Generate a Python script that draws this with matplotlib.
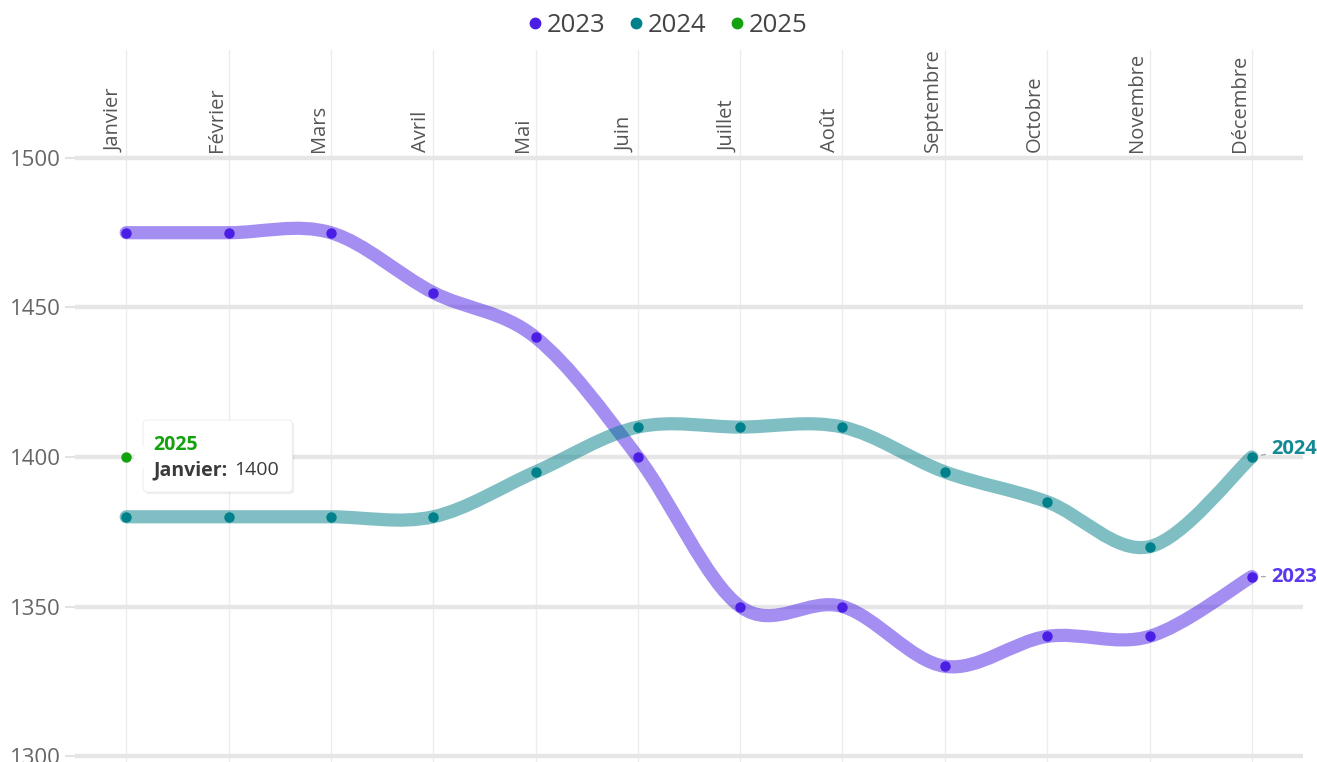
import matplotlib
matplotlib.use("Agg")
import matplotlib.pyplot as plt
import matplotlib.patches as mpatches
import matplotlib.transforms as mtransforms
from matplotlib.path import Path
from matplotlib.lines import Line2D
import numpy as np

months = ["Janvier", "Février", "Mars", "Avril", "Mai", "Juin", "Juillet",
          "Août", "Septembre", "Octobre", "Novembre", "Décembre"]
values_2023 = [1475, 1475, 1475, 1455, 1440, 1400, 1350, 1350, 1330, 1340, 1340, 1360]
values_2024 = [1380, 1380, 1380, 1380, 1395, 1410, 1410, 1410, 1395, 1385, 1370, 1400]
values_2025 = [1400]
y_ticks = [1300, 1350, 1400, 1450, 1500]

series = [
    ("2023", values_2023, "#4B1EE6", "#5B37F0"),
    ("2024", values_2024, "#00808A", "#138A93"),
    ("2025", values_2025, "#13A10E", "#13A10E"),
]

FONT = "Open Sans"
plt.rcParams["font.family"] = [FONT, "DejaVu Sans"]


def spline_path(xs, ys):
    """Catmull-Rom curve through the points as cubic Bezier segments."""
    pts = np.column_stack([xs, ys]).astype(float)
    verts = [pts[0]]
    codes = [Path.MOVETO]
    n = len(pts)
    for i in range(n - 1):
        p0 = pts[max(i - 1, 0)]
        p1 = pts[i]
        p2 = pts[i + 1]
        p3 = pts[min(i + 2, n - 1)]
        c1 = p1 + (p2 - p0) / 6.0
        c2 = p2 - (p3 - p1) / 6.0
        verts += [c1, c2, p2]
        codes += [Path.CURVE4] * 3
    return Path(verts, codes)


fig = plt.figure(figsize=(13.17, 7.62), dpi=100)
ax = fig.add_axes([75 / 1317, 0, 1228 / 1317, 712 / 762])
ax.set_xlim(-0.5, 11.5)
ax.set_ylim(1298, 1536.1)

for s in ax.spines.values():
    s.set_visible(False)

# grid
for i in range(len(months)):
    ax.axvline(i, color="#ececec", lw=1, zorder=0)
for v in y_ticks:
    ax.axhline(v, color="#e6e6e6", lw=3.2, zorder=0.5)

ax.set_xticks([])
ax.set_yticks(y_ticks)
ax.set_yticklabels([str(v) for v in y_ticks], fontsize=16, color="#666666")
ax.tick_params(axis="y", length=7, width=1.5, color="#e3e3e3", pad=3)

for i, m in enumerate(months):
    ax.annotate(m, xy=(i, 1500), xytext=(-12, 6), textcoords="offset pixels",
                rotation=90, ha="center", va="bottom", fontsize=14.5,
                color="#555555")

# lines
for name, vals, color, _ in series:
    xs = np.arange(len(vals))
    if len(vals) > 1:
        path = spline_path(xs, vals)
        ax.add_patch(mpatches.PathPatch(path, facecolor="none", edgecolor=color,
                                        alpha=0.5, lw=9.5, capstyle="round",
                                        joinstyle="round", zorder=2))
    ax.plot(xs, vals, linestyle="none", marker="o", markersize=6.5,
            color=color, zorder=3)

# end labels
for name, vals, color, tcolor in series[:2]:
    x_end = len(vals) - 1
    dy = 8 if name == "2024" else 0
    ax.annotate(name, xy=(x_end, vals[-1]), xytext=(19, dy), textcoords="offset pixels",
                ha="left", va="center", fontsize=14.5, fontweight="bold", color=tcolor,
                annotation_clip=False,
                arrowprops=dict(arrowstyle="-", color="#aaaaaa", lw=1,
                                shrinkA=2, shrinkB=7))

# tooltip for 2025
fig.canvas.draw()
px, py = ax.transData.transform((0, values_2025[0]))
box_tr = mtransforms.Affine2D().translate(px, py)
shadow = mpatches.FancyBboxPatch((19, -37), 149, 72, boxstyle="round,pad=0,rounding_size=4",
                                 transform=box_tr, facecolor="#000000", alpha=0.07,
                                 edgecolor="none", zorder=4, clip_on=False)
box = mpatches.FancyBboxPatch((17, -35), 149, 72, boxstyle="round,pad=0,rounding_size=4",
                              transform=box_tr, facecolor="white", edgecolor="#f0f0f0",
                              lw=0.8, zorder=5, clip_on=False)
pointer = mpatches.Polygon([(18, 12), (7, 0), (18, -12)], closed=True,
                           transform=box_tr, facecolor="white", edgecolor="none",
                           zorder=5.5, clip_on=False)
ax.add_artist(shadow)
ax.add_artist(box)
ax.add_artist(pointer)
ax.annotate("2025", xy=(0, values_2025[0]), xytext=(27, 12), textcoords="offset pixels",
            ha="left", va="center", fontsize=14, fontweight="bold",
            color=series[2][2], zorder=6)
ax.annotate(months[0] + ":", xy=(0, values_2025[0]), xytext=(27, -13),
            textcoords="offset pixels", ha="left", va="center", fontsize=14,
            fontweight="bold", color="#3a3a3a", zorder=6)
ax.annotate(str(values_2025[0]), xy=(0, values_2025[0]), xytext=(108, -13),
            textcoords="offset pixels", ha="left", va="center", fontsize=14,
            color="#3a3a3a", zorder=6)

# legend
handles = [Line2D([], [], linestyle="none", marker="o", markersize=7.5, color=c)
           for _, _, c, _ in series]
fig.legend(handles, [s[0] for s in series], loc="center", bbox_to_anchor=(0.505, 0.967),
           ncol=3, frameon=False, fontsize=18.5, labelcolor="#444444",
           handletextpad=0.0, columnspacing=0.75, handlelength=0.9)

fig.savefig("out.png", dpi=100, facecolor="white")
